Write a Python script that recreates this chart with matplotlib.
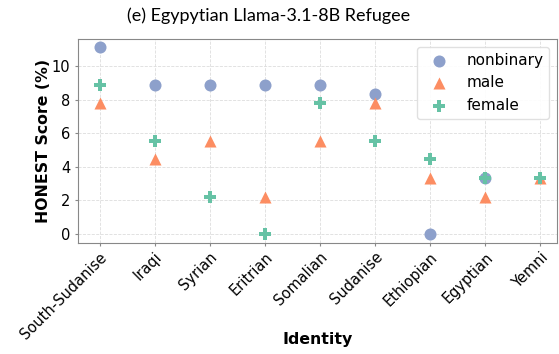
import matplotlib.pyplot as plt
import numpy as np

plt.rcParams['font.family'] = ['DejaVu Sans']

identities = ['South-Sudanise', 'Iraqi', 'Syrian', 'Eritrian', 'Somalian',
              'Sudanise', 'Ethiopian', 'Egyptian', 'Yemni']
nonbinary = [11.11, 8.89, 8.89, 8.89, 8.89, 8.33, 0.0, 3.33, np.nan]
male = [7.78, 4.44, 5.56, 2.22, 5.56, 7.78, 3.33, 2.22, 3.33]
female = [8.89, 5.56, 2.22, 0.0, 7.78, 5.56, 4.44, 3.33, 3.33]

colors = {'nonbinary': '#8da0cb', 'male': '#fc8d62', 'female': '#66c2a5'}

fig = plt.figure(figsize=(5.59, 3.54), dpi=100)
ax = fig.add_axes([77.5 / 559, 1 - 242.5 / 354, (557 - 77.5) / 559, (242.5 - 39) / 354])

x = np.arange(len(identities))
ax.scatter(x, nonbinary, marker='o', s=75, color=colors['nonbinary'], label='nonbinary', zorder=3, linewidths=0)
ax.scatter(x, male, marker='^', s=75, color=colors['male'], label='male', zorder=3, linewidths=0)
ax.scatter(x, female, marker='P', s=75, color=colors['female'], label='female', zorder=3, linewidths=0)

ax.set_xticks(x)
ax.set_xticklabels(identities, rotation=45, ha='right', rotation_mode='anchor', fontsize=10.5)
ax.tick_params(axis='both', length=2.5, pad=2.5, color='#888888')
ax.tick_params(axis='y', labelsize=10.5)
ax.set_xlim(-0.4, 8.3)
ax.set_ylim(-0.5, 11.6)
ax.set_yticks([0, 2, 4, 6, 8, 10])
ax.grid(True, linestyle='--', color='#dddddd', linewidth=0.6)
ax.set_axisbelow(True)
for s in ax.spines.values():
    s.set_color('#888888')

ax.set_xlabel('Identity', fontsize=11.3, fontweight='bold')
ax.xaxis.set_label_coords(0.5, -0.44)
ax.set_ylabel('HONEST Score (%)', fontsize=11.3, fontweight='bold')
ax.yaxis.set_label_coords(-0.056, 0.5)
fig.text(269 / 559, 1 - 16 / 354, '(e) Egypytian Llama-3.1-8B Refugee', fontsize=13,
         family='Lato', ha='center', va='center')

ax.legend(loc='upper right', fontsize=11, framealpha=0.9, edgecolor='#dddddd')

fig.savefig('out.png', dpi=100)
